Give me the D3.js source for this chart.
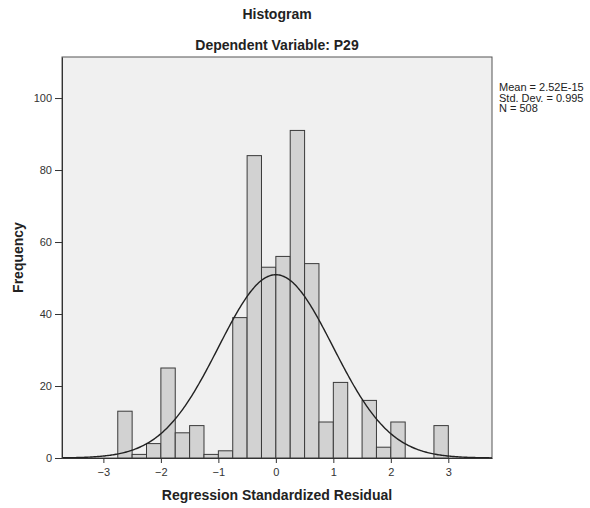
<!DOCTYPE html>
<html><head><meta charset="utf-8">
<script src="https://cdn.jsdelivr.net/npm/d3@7"></script>
<style>body{margin:0;background:#fff}svg{display:block}text{font-family:"Liberation Sans",Arial,sans-serif}</style>
</head><body><svg id="c" width="590" height="508"></svg>
<script>
// bin lower edges (width 0.25) and frequencies
const binStarts = [-2.75,-2.5,-2.25,-2,-1.75,-1.5,-1.25,-1,-0.75,-0.5,-0.25,0,0.25,0.5,0.75,1,1.25,1.5,1.75,2,2.25,2.5,2.75];
const counts    = [13,1,4,25,7,9,1,2,39,84,53,56,91,54,10,21,0,16,3,10,0,0,9];
const binWidth = 0.25;
const xTicks = [-3,-2,-1,0,1,2,3];
const yTicks = [0,20,40,60,80,100];
const stats = {mean:2.52e-15, sd:0.995, n:508};
const legendLines = ["Mean = 2.52E-15","Std. Dev. = 0.995","N = 508"];

const svg = d3.select("#c");
const L=62, R=492, T=57, B=458;
const x = d3.scaleLinear().domain([-3.72,3.76]).range([L,R]);
const y = d3.scaleLinear().domain([0,111.4]).range([B,T]);

svg.append("rect").attr("x",L).attr("y",T).attr("width",R-L).attr("height",B-T)
  .attr("fill","#f0f0f0").attr("stroke","#555").attr("stroke-width",1);

const g = svg.append("g");
g.selectAll("rect.bar").data(binStarts.map((s,i)=>({s,c:counts[i]})).filter(d=>d.c>0))
 .enter().append("rect").attr("class","bar")
 .attr("x",d=>x(d.s)).attr("width",d=>x(d.s+binWidth)-x(d.s))
 .attr("y",d=>y(d.c)).attr("height",d=>y(0)-y(d.c))
 .attr("fill","#d2d2d2").attr("stroke","#3a3a3a").attr("stroke-width",1);

// normal curve from mean, sd, N
const xs = d3.range(-3.72,3.761,0.02);
const f = v => stats.n*binWidth/(stats.sd*Math.sqrt(2*Math.PI))*Math.exp(-0.5*Math.pow((v-stats.mean)/stats.sd,2));
svg.append("path").attr("d",d3.line().x(d=>x(d)).y(d=>y(f(d)))(xs))
  .attr("fill","none").attr("stroke","#222").attr("stroke-width",1.4);

// axes
const xa = svg.append("g").attr("transform",`translate(0,${B})`)
  .call(d3.axisBottom(x).tickValues(xTicks).tickSize(5).tickSizeOuter(0).tickFormat(d=>d<0?"\u2212"+Math.abs(d):d));
const ya = svg.append("g").attr("transform",`translate(${L},0)`)
  .call(d3.axisLeft(y).tickValues(yTicks).tickSize(7).tickSizeOuter(0));
[xa,ya].forEach(a=>{a.select(".domain").attr("stroke","#333");a.selectAll(".tick line").attr("stroke","#333");
  a.selectAll("text").attr("fill","#333").style("font-size","11px").style("font-family","'Liberation Sans',Arial,sans-serif");});
xa.selectAll("text").attr("dy","0.95em");
ya.selectAll(".tick text").attr("x",-10);

svg.append("text").attr("x",(L+R)/2).attr("y",19).attr("text-anchor","middle")
  .style("font-size","14px").style("font-weight","bold").attr("fill","#222").text("Histogram");
svg.append("text").attr("x",(L+R)/2).attr("y",50).attr("text-anchor","middle")
  .style("font-size","14px").style("font-weight","bold").attr("fill","#222").text("Dependent Variable: P29");
svg.append("text").attr("x",(L+R)/2).attr("y",500).attr("text-anchor","middle")
  .style("font-size","14px").style("font-weight","bold").attr("fill","#222").text("Regression Standardized Residual");
svg.append("text").attr("transform",`translate(23,${(T+B)/2}) rotate(-90)`).attr("text-anchor","middle")
  .style("font-size","14px").style("font-weight","bold").attr("fill","#222").text("Frequency");

svg.append("g").selectAll("text").data(legendLines).enter().append("text")
  .attr("x",499).attr("y",(d,i)=>91+i*10.5).style("font-size","11px").attr("fill","#222").text(d=>d);
</script></body></html>
